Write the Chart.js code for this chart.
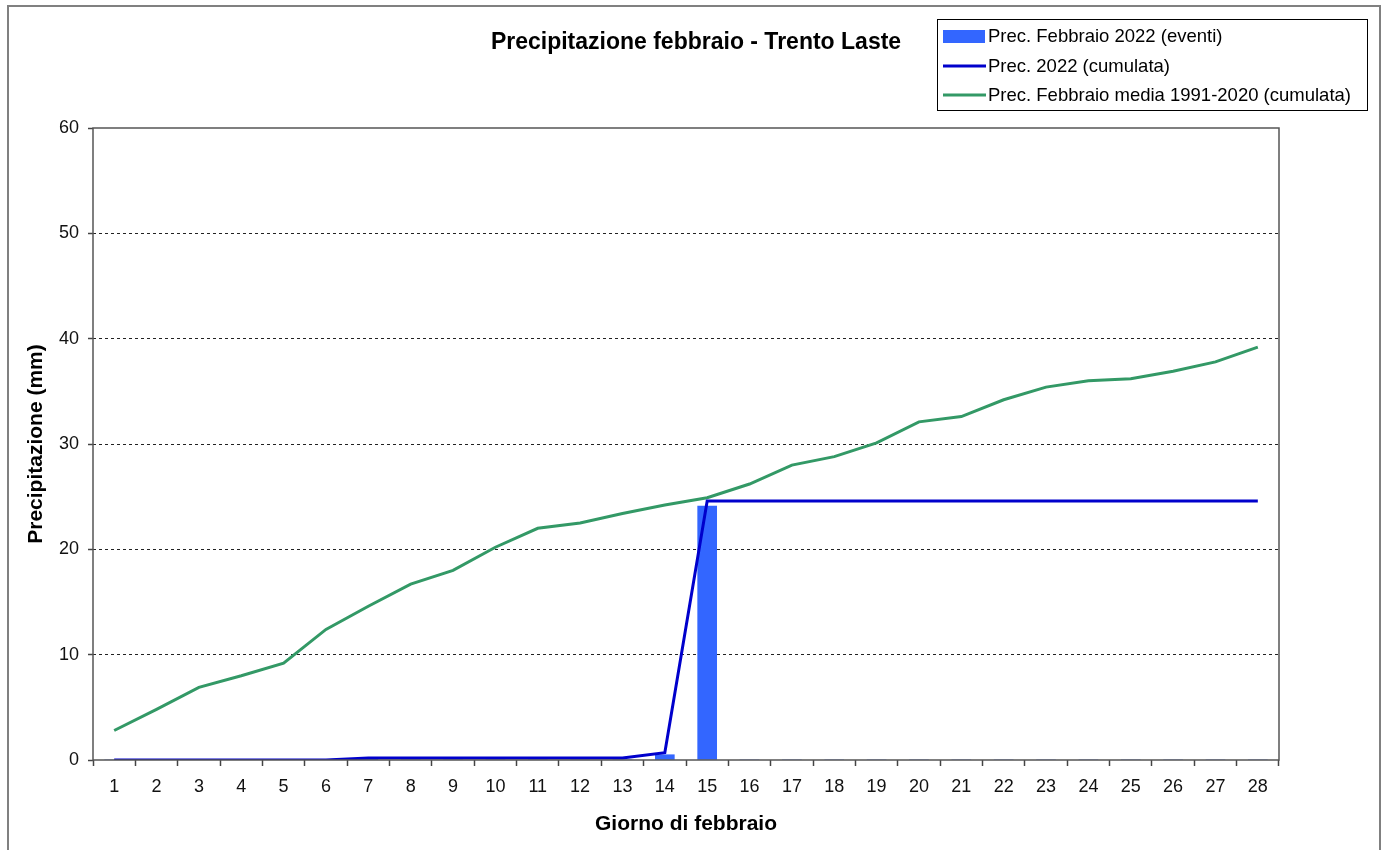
<!DOCTYPE html>
<html>
<head>
<meta charset="utf-8">
<title>Precipitazione febbraio - Trento Laste</title>
<script src="https://cdn.jsdelivr.net/npm/chart.js@4.4.1/dist/chart.umd.min.js"></script>
<style>
  body { margin: 0; background: #fff; }
  canvas { display: block; }
</style>
</head>
<body>
<canvas id="myChart" width="1388" height="850"></canvas>
<script>
  const FONT = "'Liberation Sans', Arial, sans-serif";

  // giorni di febbraio
  const days = ['1','2','3','4','5','6','7','8','9','10','11','12','13','14',
                '15','16','17','18','19','20','21','22','23','24','25','26','27','28'];

  // precipitazione giornaliera 2022 (eventi), mm
  const events2022 = [0,0,0,0,0,0,0.2,0,0,0,0,0,0,0.5,
                      24.1,0,0,0,0,0,0,0,0,0,0,0,0,0];

  // cumulata 2022, mm
  const cumul2022 = [0,0,0,0,0,0,0.2,0.2,0.2,0.2,0.2,0.2,0.2,0.7,
                     24.6,24.6,24.6,24.6,24.6,24.6,24.6,24.6,24.6,24.6,24.6,24.6,24.6,24.6];

  // cumulata media 1991-2020, mm
  const cumulMedia = [2.8,4.8,6.9,8.0,9.2,12.4,14.6,16.7,18.0,20.2,22.0,22.5,23.4,24.2,
                      24.9,26.2,28.0,28.8,30.1,32.1,32.6,34.2,35.4,36.0,36.2,36.9,37.8,39.2];

  const yTicks = [0,10,20,30,40,50,60];

  // frame, title and legend drawn around the plot like the spreadsheet chart
  const decorations = {
    id: 'decorations',
    beforeDraw(chart) {
      const ctx = chart.ctx;
      ctx.save();
      ctx.fillStyle = '#fff';
      ctx.fillRect(0, 0, chart.width, chart.height);
      ctx.strokeStyle = '#808080';
      ctx.lineWidth = 2;
      ctx.strokeRect(8, 6, 1372, 900);
      ctx.restore();
    },
    afterDraw(chart) {
      const ctx = chart.ctx;
      const a = chart.chartArea;
      ctx.save();
      // plot frame
      ctx.strokeStyle = '#555';
      ctx.lineWidth = 1.5;
      ctx.strokeRect(a.left, a.top, a.right - a.left, a.bottom - a.top);

      // title
      ctx.fillStyle = '#000';
      ctx.font = 'bold 23px ' + FONT;
      ctx.textAlign = 'center';
      ctx.textBaseline = 'middle';
      ctx.fillText('Precipitazione febbraio - Trento Laste', 696, 43);

      // legend
      ctx.fillStyle = '#fff';
      ctx.fillRect(937, 19, 430, 91);
      ctx.strokeStyle = '#000';
      ctx.lineWidth = 1;
      ctx.strokeRect(937.5, 19.5, 430, 91);
      ctx.font = '18.5px ' + FONT;
      ctx.textAlign = 'left';
      const rows = [36, 66, 95];
      chart.data.datasets.forEach((ds, i) => {
        const y = rows[i];
        if (ds.type === 'bar') {
          ctx.fillStyle = ds.backgroundColor;
          ctx.fillRect(943, y - 6, 42, 13);
        } else {
          ctx.strokeStyle = ds.borderColor;
          ctx.lineWidth = 3;
          ctx.beginPath();
          ctx.moveTo(943, y);
          ctx.lineTo(986, y);
          ctx.stroke();
        }
        ctx.fillStyle = '#000';
        ctx.fillText(ds.label, 988, y + 1);
      });
      ctx.restore();
    }
  };

  const ctx = document.getElementById('myChart').getContext('2d');
  const myChart = new Chart(ctx, {
    data: {
      labels: days,
      datasets: [
        {
          type: 'bar',
          label: 'Prec. Febbraio 2022 (eventi)',
          data: events2022,
          backgroundColor: '#3366ff',
          borderWidth: 0,
          barThickness: 19,
          order: 3
        },
        {
          type: 'line',
          label: 'Prec. 2022 (cumulata)',
          data: cumul2022,
          borderColor: '#0000cc',
          borderWidth: 3,
          pointRadius: 0,
          tension: 0,
          fill: false,
          order: 1
        },
        {
          type: 'line',
          label: 'Prec. Febbraio media 1991-2020 (cumulata)',
          data: cumulMedia,
          borderColor: '#339966',
          borderWidth: 3,
          pointRadius: 0,
          tension: 0,
          fill: false,
          order: 2
        }
      ]
    },
    options: {
      responsive: false,
      animation: false,
      layout: { padding: { top: 128, right: 109, bottom: 0, left: 0 } },
      plugins: {
        legend: { display: false },
        title: { display: false },
        tooltip: { enabled: false }
      },
      scales: {
        x: {
          offset: true,
          grid: {
            offset: true,
            drawOnChartArea: false,
            drawTicks: true,
            tickLength: 6,
            tickColor: '#444',
            tickWidth: 1.5
          },
          border: { display: false },
          ticks: {
            autoSkip: false,
            maxRotation: 0,
            padding: 10,
            color: '#111',
            font: { family: FONT, size: 18 }
          },
          title: {
            display: true,
            text: 'Giorno di febbraio',
            color: '#000',
            font: { family: FONT, size: 21, weight: 'bold', lineHeight: 1.2 },
            padding: { top: 0, bottom: 13 }
          },
          afterFit(scale) { scale.height = 90; }
        },
        y: {
          min: 0,
          max: 60,
          afterBuildTicks(scale) { scale.ticks = yTicks.map(v => ({ value: v })); },
          grid: {
            color: c => (c.tick && (c.tick.value === 0 || c.tick.value === 60)) ? 'rgba(0,0,0,0)' : '#222',
            lineWidth: 1,
            drawTicks: true,
            tickLength: 5,
            tickColor: '#444',
            tickWidth: 1.5
          },
          border: { display: false, dash: [3, 3] },
          ticks: {
            padding: 9,
            color: '#111',
            font: { family: FONT, size: 18 }
          },
          title: {
            display: true,
            text: 'Precipitazione (mm)',
            color: '#000',
            font: { family: FONT, size: 21, weight: 'bold', lineHeight: 1.2 },
            padding: { top: 24, bottom: 0 }
          },
          afterFit(scale) { scale.width = 93; }
        }
      }
    },
    plugins: [decorations]
  });
</script>
</body>
</html>
